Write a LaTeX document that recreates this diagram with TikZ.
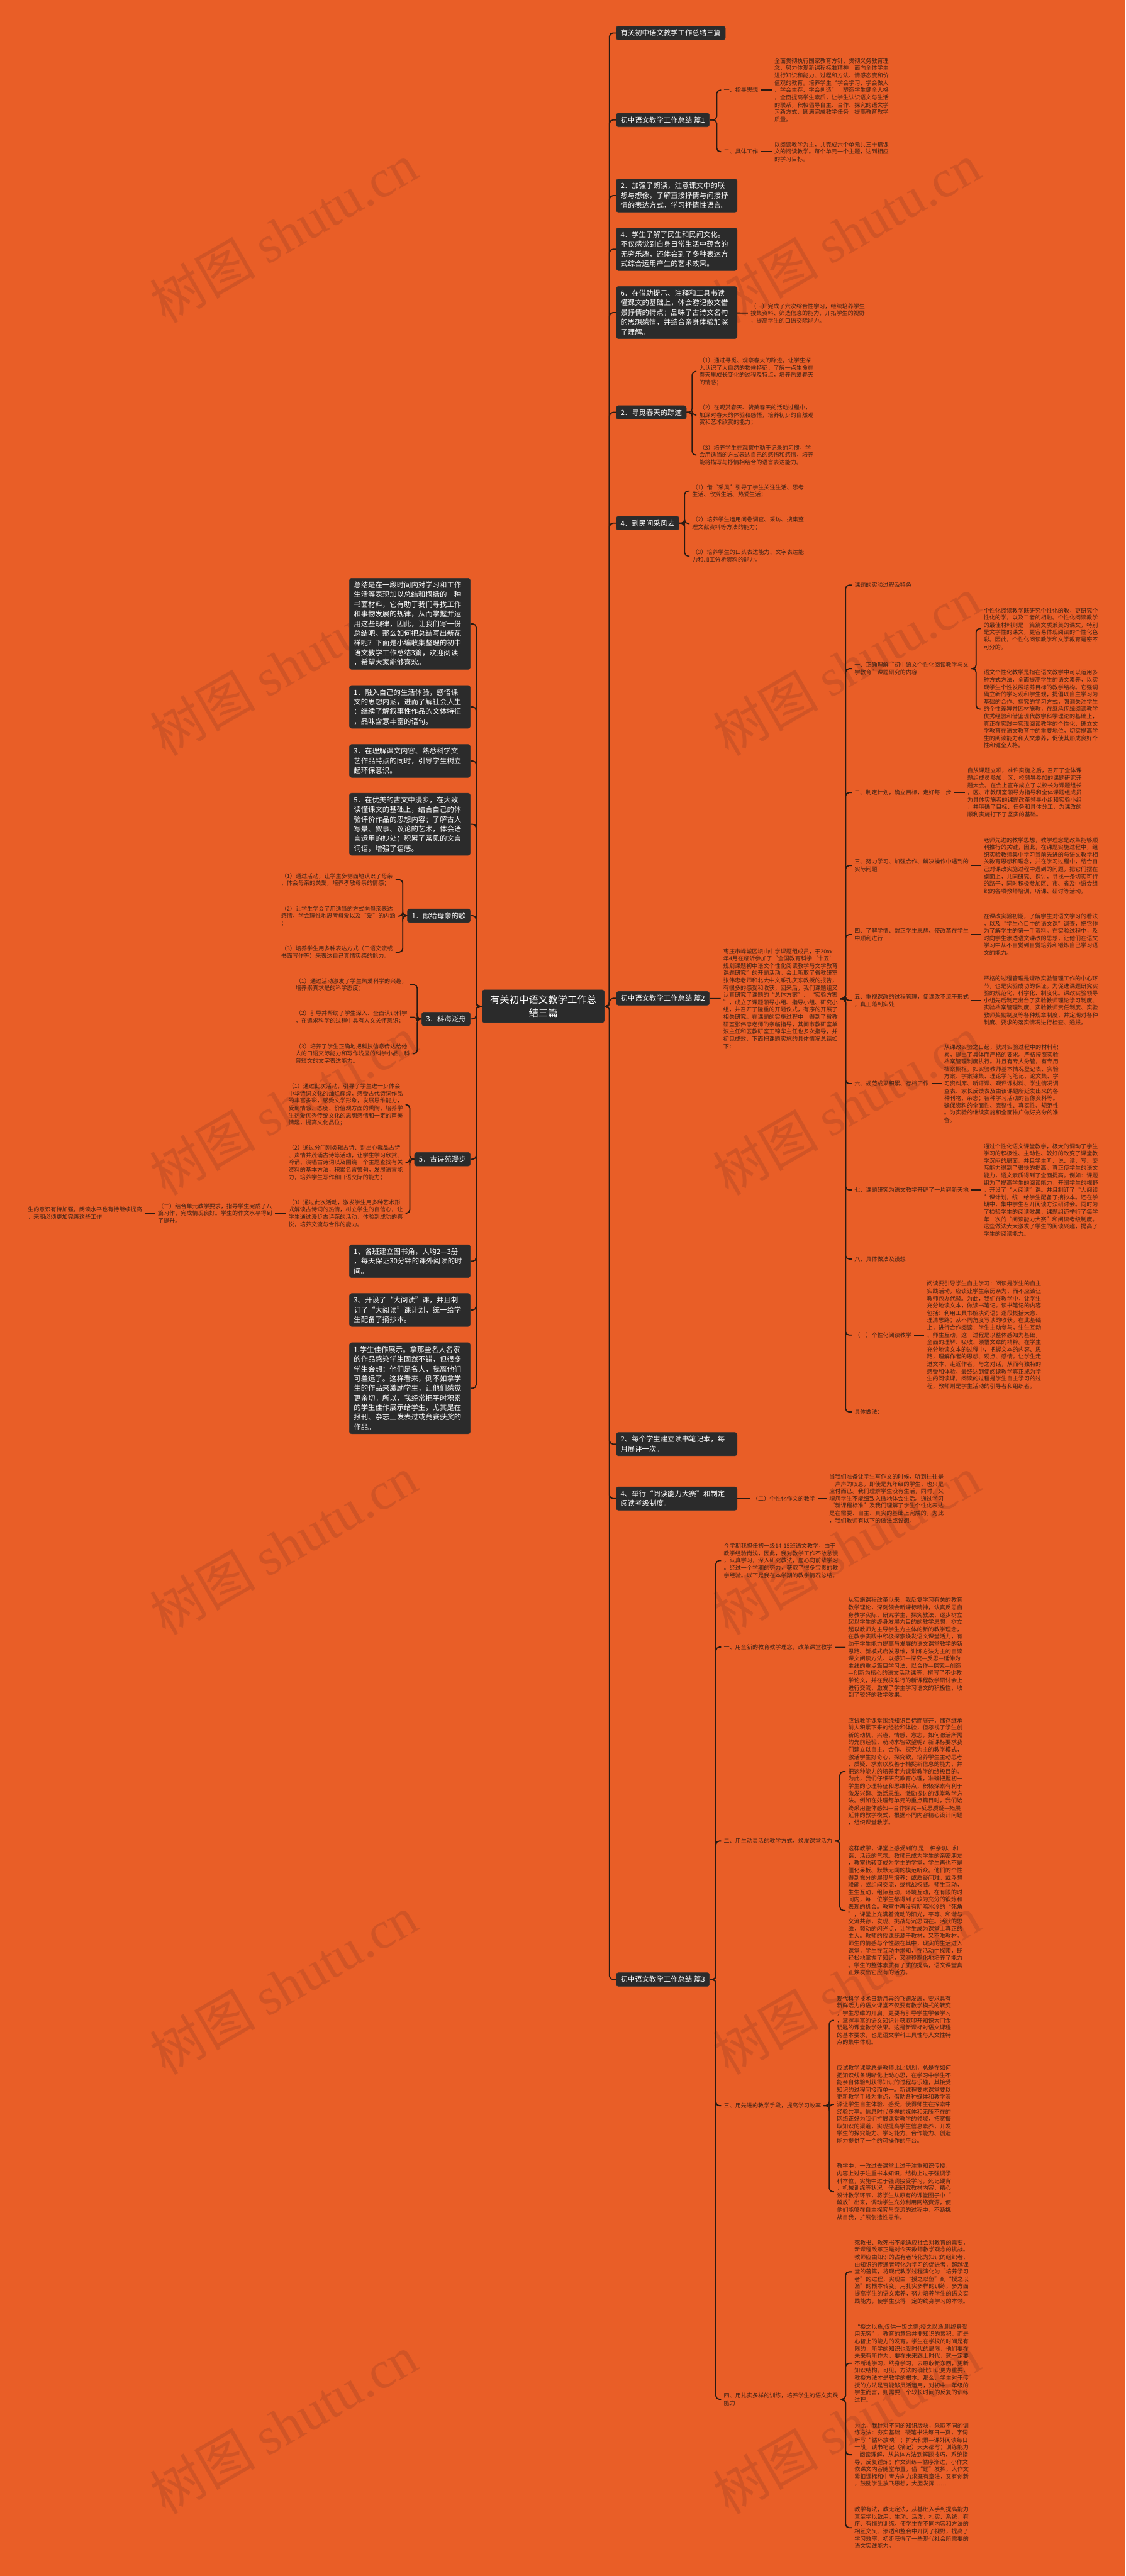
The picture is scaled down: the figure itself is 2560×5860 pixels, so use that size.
\documentclass[tikz,border=0pt]{standalone}
\usepackage{fontspec}
\setmainfont{Noto Sans CJK SC}
\newfontfamily\wmlatin{Liberation Serif}
\usetikzlibrary{positioning,calc}
\definecolor{bgorange}{RGB}{233,94,39}
\definecolor{boxgray}{RGB}{43,43,43}
\definecolor{boxrim}{RGB}{58,52,50}
\definecolor{inkbrown}{RGB}{62,34,22}
\definecolor{linebrown}{RGB}{42,26,18}
\definecolor{wmorange}{RGB}{208,84,38}

\begin{document}
\begin{tikzpicture}[
    x=1pt, y=-1pt,
    % node styles
    box/.style = {
      fill=boxgray,
      draw=boxrim,
      line width=0.8pt,
      rounded corners=5pt,
      text=white,
      align=left,
      inner xsep=10pt,
      inner ysep=8pt,
      font=\fontsize{16.3}{22}\selectfont
    },
    rbox/.style = {box, anchor=west},
    lbox/.style = {box, anchor=east},
    wbox/.style = {text width=255pt},
    mainbox/.style = {
      box,
      align=center,
      inner xsep=18pt,
      inner ysep=12pt,
      font=\fontsize{22}{30}\selectfont
    },
    txt/.style = {
      anchor=west,
      align=left,
      text=inkbrown,
      inner xsep=6pt,
      inner ysep=2pt,
      font=\fontsize{13}{16.6}\selectfont
    },
    wmark/.style = {rotate=30, text=wmorange, font=\fontsize{120}{120}\selectfont},
    % connector style
    conn/.style = {draw=linebrown, line width=2.6pt, rounded corners=8pt}
  ]

  % --- Background and watermarks
  \fill[bgorange] (0,0) rectangle (2560,5860);
  \useasboundingbox (0,0) rectangle (2560,5860);
  \foreach \wy in {530,1515,2515,3515,4515,5515} {
    \node[wmark] (wl\wy) at (645,\wy) {树图 {\wmlatin shutu.cn}};
    \node[wmark] (wr\wy) at (1925,\wy) {树图 {\wmlatin shutu.cn}};
  }

  % --- Spines
  \coordinate (spR) at (1386,0);
  \coordinate (spL) at (1083,0);
  \coordinate (bP1) at (1630,0);
  \coordinate (bS2) at (1574,0);
  \coordinate (bS4) at (1557,0);
  \coordinate (bP2) at (1923,0);
  \coordinate (bK1) at (2220,0);
  \coordinate (bP3) at (1628,0);
  \coordinate (bQ2) at (1910,0);
  \coordinate (bQ3) at (1886,0);
  \coordinate (bQ4) at (1923,0);
  \coordinate (bM1) at (916,0);
  \coordinate (bM3) at (949,0);
  \coordinate (bM5) at (932,0);

  % --- Root
  \node[mainbox] (main) at (1235.5,2289) {有关初中语文教学工作总\\结三篇};

  % --- Right branches
  \node[rbox] (r0) at (1401,75) {有关初中语文教学工作总结三篇};
  \node[rbox] (p1) at (1401,273) {初中语文教学工作总结 篇1};
  \node[rbox, wbox] (r3) at (1401,445) {2．加强了朗读，注意课文中的联\\想与想像，了解直接抒情与间接抒\\情的表达方式，学习抒情性语言。};
  \node[rbox, wbox] (r4) at (1401,567) {4．学生了解了民生和民间文化。\\不仅感觉到自身日常生活中蕴含的\\无穷乐趣，还体会到了多种表达方\\式综合运用产生的艺术效果。};
  \node[rbox, wbox] (r5) at (1401,711) {6．在借助提示、注释和工具书读\\懂课文的基础上，体会游记散文借\\景抒情的特点；品味了古诗文名句\\的思想感情，并结合亲身体验加深\\了理解。};
  \node[rbox] (s2) at (1401,938) {2．寻觅春天的踪迹};
  \node[rbox] (s4) at (1401,1190) {4．到民间采风去};
  \node[rbox] (p2) at (1401,2271) {初中语文教学工作总结 篇2};
  \node[rbox, wbox] (r9) at (1401,3285) {2、每个学生建立读书笔记本，每\\月展评一次。};
  \node[rbox, wbox] (r10) at (1401,3409) {4、举行“阅读能力大赛”和制定\\阅读考级制度。};
  \node[rbox] (p3) at (1401,4503) {初中语文教学工作总结 篇3};

  \foreach \c in {r0,p1,r3,r4,r5,s2,s4,p2,r9,r10,p3}
    \draw[conn] (main.east) -- (spR |- main.east) |- (\c.west);

  % 篇1
  \node[txt] (p1a) at (1640,205) {一、指导思想};
  \node[txt] (p1at) at (1755,205) {全面贯彻执行国家教育方针，贯彻义务教育理\\念，努力体现新课程标准精神，面向全体学生\\进行知识和能力、过程和方法、情感态度和价\\值观的教育。培养学生“学会学习、学会做人\\、学会生存、学会创造”，塑造学生健全人格\\，全面提高学生素质，让学生认识语文与生活\\的联系，积极倡导自主、合作、探究的语文学\\习新方式，圆满完成教学任务，提高教育教学\\质量。};
  \node[txt] (p1b) at (1640,345) {二、具体工作};
  \node[txt] (p1bt) at (1755,345) {以阅读教学为主，共完成六个单元共三十篇课\\文的阅读教学。每个单元一个主题，达到相应\\的学习目标。};
  \foreach \c in {p1a,p1b}
    \draw[conn] (p1.east) -- (bP1 |- p1.east) |- (\c.west);
  \draw[conn] (p1a) -- (p1at);
  \draw[conn] (p1b) -- (p1bt);

  \node[txt] (r5t) at (1701,713) {（一）完成了六次综合性学习，继续培养学生\\搜集资料、筛选信息的能力，开拓学生的视野\\，提高学生的口语交际能力。};
  \draw[conn] (r5) -- (r5t);

  % 寻觅春天的踪迹
  \node[txt] (s2a) at (1584,845) {（1）通过寻觅、观察春天的踪迹，让学生深\\入认识了大自然的物候特征，了解一点生命在\\春天里成长变化的过程及特点，培养热爱春天\\的情感；};
  \node[txt] (s2b) at (1584,944) {（2）在观赏春天、赞美春天的活动过程中，\\加深对春天的体验和感悟，培养初步的自然观\\赏和艺术欣赏的能力；};
  \node[txt] (s2c) at (1584,1035) {（3）培养学生在观察中勤于记录的习惯，学\\会用适当的方式表达自己的感悟和感情，培养\\能将描写与抒情相结合的语言表达能力。};
  \foreach \c in {s2a,s2b,s2c}
    \draw[conn] (s2.east) -- (bS2 |- s2.east) |- (\c.west);

  % 到民间采风去
  \node[txt] (s4a) at (1568,1117) {（1）借“采风”引导了学生关注生活、思考\\生活、欣赏生活、热爱生活；};
  \node[txt] (s4b) at (1568,1191) {（2）培养学生运用问卷调查、采访、搜集整\\理文献资料等方法的能力；};
  \node[txt] (s4c) at (1568,1265) {（3）培养学生的口头表达能力、文字表达能\\力和加工分析资料的能力。};
  \foreach \c in {s4a,s4b,s4c}
    \draw[conn] (s4.east) -- (bS4 |- s4.east) |- (\c.west);

  % 篇2
  \node[txt] (p2t) at (1639,2272) {枣庄市峄城区坛山中学课题组成员，于20xx\\年4月在临沂参加了“全国教育科学‘十五’\\规划课题初中语文个性化阅读教学与文学教育\\课题研究”的开题活动，会上听取了省教研室\\张伟忠老师和北大中文系孔庆东教授的报告，\\有很多的感受和收获，回来后，我们课题组又\\认真研究了课题的“总体方案”、“实验方案\\”，成立了课题领导小组、指导小组、研究小\\组，并召开了隆重的开题仪式，有序的开展了\\相关研究。在课题的实施过程中，得到了省教\\研室张伟忠老师的亲临指导，其间市教研室单\\波主任和区教研室王锦华主任也多次指导，并\\初见成效，下面把课题实施的具体情况总结如\\下：};
  \draw[conn] (p2) -- (p2t);

  \node[txt] (k0) at (1937,1331) {课题的实验过程及特色};
  \node[txt] (k1) at (1937,1521) {一、正确理解“初中语文个性化阅读教学与文\\学教育”课题研究的内容};
  \node[txt] (k2) at (1937,1803) {二、制定计划，确立目标，走好每一步};
  \node[txt] (k3) at (1937,1969) {三、努力学习、加强合作、解决操作中遇到的\\实际问题};
  \node[txt] (k4) at (1937,2126) {四、了解学情、端正学生思想、使改革在学生\\中顺利进行};
  \node[txt] (k5) at (1937,2276) {五、重视课改的过程管理，使课改不流于形式\\，真正落到实处};
  \node[txt] (k6) at (1937,2465) {六、规范成果积累、存档工作};
  \node[txt] (k7) at (1937,2707) {七、课题研究为语文教学开辟了一片崭新天地};
  \node[txt] (k8) at (1937,2864) {八、具体做法及设想};
  \node[txt] (k9) at (1937,3037) {（一）个性化阅读教学};
  \node[txt] (k10) at (1937,3212) {具体做法：};
  \foreach \c in {k0,k1,k2,k3,k4,k5,k6,k7,k8,k9,k10}
    \draw[conn] (p2t.east) -- (bP2 |- p2t.east) |- (\c.west);

  \node[txt] (k1a) at (2231,1430) {个性化阅读教学既研究个性化的教，更研究个\\性化的学，以及二者的相融。个性化阅读教学\\的最佳材料则是一篇篇文质兼美的课文，特别\\是文学性的课文，更容易体现阅读的个性化色\\彩。因此，个性化阅读教学和文学教育是密不\\可分的。};
  \node[txt] (k1b) at (2231,1613) {语文个性化教学是指在语文教学中可以运用多\\种方式方法，全面提高学生的语文素养，以实\\现学生个性发展培养目标的教学结构。它强调\\确立新的学习观和学生观，提倡以自主学习为\\基础的合作、探究的学习方式，强调关注学生\\的个性差异并因材施教，在继承传统阅读教学\\优秀经验和借鉴现代教学科学理论的基础上，\\真正在实践中实现阅读教学的个性化，确立文\\学教育在语文教育中的重要地位，切实提高学\\生的阅读能力和人文素养，促使其形成良好个\\性和健全人格。};
  \foreach \c in {k1a,k1b}
    \draw[conn] (k1.east) -- (bK1 |- k1.east) |- (\c.west);

  \node[txt] (k2t) at (2194,1803) {自从课题立项，准许实施之后，召开了全体课\\题组成员参加，区、校领导参加的课题研究开\\题大会。在会上宣布成立了以校长为课题组长\\，区、市教研室领导为指导和全体课题组成员\\为具体实施者的课题改革领导小组和实验小组\\，并明确了目标、任务和具体分工，为课改的\\顺利实施打下了坚实的基础。};
  \node[txt] (k3t) at (2231,1969) {老师先进的教学思想，教学理念是改革能够顺\\利推行的关键，因此，在课题实施过程中，组\\织实验教师集中学习当前先进的与语文教学相\\关教育思想和理念，并在学习过程中，结合自\\己对课改实施过程中遇到的问题，把它们摆在\\桌面上，共同研究、探讨，寻找一条切实可行\\的路子，同时积极参加区、市、省及中语会组\\织的各项教师培训，听课、研讨等活动。};
  \node[txt] (k4t) at (2231,2126) {在课改实验初期，了解学生对语文学习的看法\\，以及“学生心目中的语文课”调查，把它作\\为了解学生的第一手资料。在实验过程中，及\\时向学生渗透语文课改的思想，让他们在语文\\学习中从不自觉到自觉培养和锻炼自己学习语\\文的能力。};
  \node[txt] (k5t) at (2231,2276) {严格的过程管理是课改实验管理工作的中心环\\节，也是实验成功的保证。为促进课题研究实\\验的规范化、科学化、制度化。课改实验领导\\小组先后制定出台了实验教师理论学习制度、\\实验档案管理制度、实验教师责任制度、实验\\教师奖励制度等各种规章制度，并定期对各种\\制度、要求的落实情况进行检查、通报。};
  \node[txt] (k6t) at (2141,2465) {从课改实验之日起，就对实验过程中的材料积\\累，提出了具体而严格的要求。严格按照实验\\档案管理制度执行。并且有专人分管，有专用\\档案橱柜。如实验教师基本情况登记表、实验\\方案、学案锦集、理论学习笔记、论文集、学\\习资料库、听评课、观评课材料、学生情况调\\查表、家长反馈表及由该课题所延发出来的各\\种刊物、杂志；各种学习活动的音像资料等。\\确保资料的全面性、完整性、真实性、规范性\\。为实验的继续实施和全面推广做好充分的准\\备。};
  \node[txt] (k7t) at (2231,2707) {通过个性化语文课堂教学，极大的调动了学生\\学习的积极性、主动性、较好的改变了课堂教\\学沉闷的局面。并且学生听、说、读、写、交\\际能力得到了很快的提高。真正使学生的语文\\能力，语文素质得到了全面提高。例如：课题\\组为了提高学生的阅读能力，开阔学生的视野\\，开设了“大阅读”课。并且制订了“大阅读\\”课计划，统一给学生配备了摘抄本。还在学\\期中，集中学生召开阅读方法研讨会。同时为\\了检验学生的阅读效果，课题组还举行了每学\\年一次的“阅读能力大赛”和阅读考级制度。\\这些做法大大激发了学生的阅读兴趣，提高了\\学生的阅读能力。};
  \node[txt] (k9t) at (2102,3037) {阅读要引导学生自主学习：阅读是学生的自主\\实践活动，应该让学生亲历亲为，而不应该让\\教师包办代替。为此，我们在教学中，让学生\\充分地读文本，做读书笔记。读书笔记的内容\\包括：利用工具书解决词语；逐段概括大意、\\理清思路；从不同角度写读的收获。在此基础\\上，进行合作阅读：学生主动参与，生生互动\\、师生互动。这一过程是以整体感知为基础，\\全面的理解、吸收、领悟文章的精粹。在学生\\充分地读文本的过程中，把握文本的内容、思\\路，理解作者的思想、观点、感情。让学生走\\进文本、走近作者，与之对话，从而有独特的\\感受和体验。最终达到使阅读教学真正成为学\\生的阅读课，阅读的过程是学生自主学习的过\\程，教师则是学生活动的引导者和组织者。};
  \draw[conn] (k2) -- (k2t);
  \draw[conn] (k3) -- (k3t);
  \draw[conn] (k4) -- (k4t);
  \draw[conn] (k5) -- (k5t);
  \draw[conn] (k6) -- (k6t);
  \draw[conn] (k7) -- (k7t);
  \draw[conn] (k9) -- (k9t);

  % 阅读能力大赛
  \node[txt] (r10a) at (1705,3409) {（二）个性化作文的教学};
  \node[txt] (r10t) at (1880,3409) {当我们准备让学生写作文的时候，听到往往是\\一声声的叹息，即使是九年级的学生，也只是\\应付而已。我们理解学生没有生活，同时，又\\埋怨学生不能细致入微地体会生活。通过学习\\“新课程标准”及我们理解了学生个性化表达\\是在需要、自主、真实的基础上完成的。为此\\，我们教师有以下的做法或设想。};
  \draw[conn] (r10) -- (r10a);
  \draw[conn] (r10a) -- (r10t);

  % 篇3
  \node[txt] (q0) at (1640,3550) {今学期我担任初一级14-15班语文教学，由于\\教学经验尚浅，因此，我对教学工作不敢怠慢\\，认真学习，深入研究教法，虚心向前辈学习\\。经过一个学期的努力，获取了很多宝贵的教\\学经验。以下是我在本学期的教学情况总结。};
  \node[txt] (q1) at (1640,3747) {一、用全新的教育教学理念，改革课堂教学};
  \node[txt] (q2) at (1640,4188) {二、用生动灵活的教学方式，焕发课堂活力};
  \node[txt] (q3) at (1640,4790) {三、用先进的教学手段，提高学习效率};
  \node[txt] (q4) at (1640,5458) {四、用扎实多样的训练，培养学生的语文实践\\能力};
  \foreach \c in {q0,q1,q2,q3,q4}
    \draw[conn] (p3.east) -- (bP3 |- p3.east) |- (\c.west);

  \node[txt] (q1t) at (1923,3748) {从实施课程改革以来，我反复学习有关的教育\\教学理论，深刻领会新课标精神，认真反思自\\身教学实际，研究学生，探究教法，逐步树立\\起以学生的终身发展为目的的教学思想，树立\\起以教师为主导学生为主体的新的教学理念，\\在教学实践中积极探索焕发语文课堂活力，有\\助于学生能力提高与发展的语文课堂教学的新\\思路、新模式启发思维，训练方法为主的自读\\课文阅读方法、以感知—探究—反思—延伸为\\主线的重点篇目学习法、以合作—探究—创造\\—创新为核心的语文活动课等，撰写了不少教\\学论文，并在我校举行的新课程教学研讨会上\\进行交流，激发了学生学习语文的积极性，收\\到了较好的教学效果。};
  \draw[conn] (q1) -- (q1t);

  \node[txt] (q2a) at (1923,4030) {应试教学课堂围绕知识目标而展开，储存继承\\前人积累下来的经验和体验，但忽视了学生创\\新的动机、兴趣、情感、意志，如何激活所需\\的先前经验，萌动求智欲望呢？新课标要求我\\们建立以自主、合作、探究为主的教学模式，\\激活学生好奇心，探究欲，培养学生主动思考\\、质疑、求索以及善于捕捉新信息的能力，并\\把这种能力的培养定为课堂教学的终极目的。\\为此，我们仔细研究教育心理，准确把握初一\\学生的心理特征和思维特点，积极探索有利于\\激发兴趣、激活思维、激励探讨的课堂教学方\\法。例如在处理每单元的重点篇目时，我们始\\终采用整体感知—合作探究—反思质疑—拓展\\延伸的教学模式，根据不同内容精心设计问题\\，组织课堂教学。};
  \node[txt] (q2b) at (1923,4346) {这样教学，课堂上感受到的.是一种亲切、和\\谐、活跃的气氛。教师已成为学生的亲密朋友\\，教室也转变成为学生的学堂，学生再也不是\\僵化呆板、默默无闻的模范听众。他们的个性\\得到充分的展现与培养：或质疑问难，或浮想\\联翩，或组间交流，或挑战权威。师生互动，\\生生互动，组际互动，环境互动，在有限的时\\间内，每一位学生都得到了较为充分的锻炼和\\表现的机会。教室中再没有阴暗冰冷的“死角\\”，课堂上充满着流动的阳光，平等、和谐与\\交流共存，发现、挑战与沉思同在。活跃的思\\维，频动的闪光点，让学生成为课堂上真正的\\主人。教师的授课既源于教材，又不唯教材。\\师生的情感与个性融在其中，现实的生活进入\\课堂，学生在互动中求知，在活动中探索，既\\轻松地掌握了知识，又潜移默化地培养了能力\\。学生的整体素质有了质的提高，语文课堂真\\正焕发出它应有的活力。};
  \foreach \c in {q2a,q2b}
    \draw[conn] (q2.east) -- (bQ2 |- q2.east) |- (\c.west);

  \node[txt] (q3a) at (1897,4596) {现代科学技术日新月异的飞速发展，要求具有\\新鲜活力的语文课堂不仅要有教学模式的转变\\，学生思维的开启，更要有引导学生学会学习\\，掌握丰富的语文知识并获取叩开知识大门金\\钥匙的课堂教学效果。这是新课标对语文课程\\的基本要求，也是语文学科工具性与人文性特\\点的集中体现。};
  \node[txt] (q3b) at (1897,4787) {应试教学课堂总是教师比比划划，总是在如何\\把知识线条明晰化上动心思，在学习中学生不\\能亲自体验到获得知识的过程与乐趣，其接受\\知识的过程间接而单一。新课程要求课堂要以\\更新教学手段为重点，借助各种媒体和教学资\\源让学生自主体验、感受，使得师生在探索中\\经验共享。信息时代多样的媒体和无所不在的\\网络正好为我们扩展课堂教学的领域，拓宽摄\\取知识的渠道，实现提高学生信息素养，开发\\学生的探究能力、学习能力、合作能力、创造\\能力提供了一个的可操作的平台。};
  \node[txt] (q3c) at (1897,4986) {教学中，一改过去课堂上过于注重知识传授，\\内容上过于注重书本知识，结构上过于强调学\\科本位，实施中过于强调接受学习，死记硬背\\，机械训练等状况，仔细研究教材内容，精心\\设计教学环节，将学生从原有的课堂圈子中“\\解放”出来，调动学生充分利用网络资源，使\\他们能够在自主探究与交流的过程中，不断挑\\战自我，扩展创造性思维。};
  \foreach \c in {q3a,q3b,q3c}
    \draw[conn] (q3.east) -- (bQ3 |- q3.east) |- (\c.west);

  \node[txt] (q4a) at (1937,5168) {死教书、教死书不能适应社会对教育的需要，\\新课程改革正是对今天教师教学观念的挑战。\\教师应由知识的占有者转化为知识的组织者，\\由知识的传递者转化为学习的促进者，超越课\\堂的藩篱，将现代教学过程演化为“培养学习\\者”的过程，实现由“授之以鱼”到“授之以\\渔”的根本转变。用扎实多样的训练，多方面\\提高学生的语文素养，努力培养学生的语文实\\践能力，使学生获得一定的终身学习的本领。};
  \node[txt] (q4b) at (1937,5376) {“授之以鱼,仅供一饭之需;授之以渔,则终身受\\用无穷”。教育的意旨并非知识的累积，而是\\心智上的能力的发育。学生在学校的时间是有\\限的，所学的知识也受时代的局限，他们要在\\未来有所作为，要在未来跟上时代，就一定要\\不断地学习，终身学习，去吸收新东西，更新\\知识结构。可见，方法的确比知识更为重要，\\教授方法才是教学的根本。那么，学生对于传\\授的方法是否能够灵活运用，对初中一年级的\\学生而言，则需要一个较长时间的反复的训练\\过程。};
  \node[txt] (q4c) at (1937,5584) {为此，我针对不同的知识版块，采取不同的训\\练方法：夯实基础—硬笔书法每日一页，字词\\听写“循环放映”；扩大积累—课外阅读每日\\一段，读书笔记（摘记）天天都写；训练能力\\—阅读理解，从总体方法到解题技巧，系统指\\导，反复锤炼；作文训练—循序渐进，小作文\\依课文内容随堂布置，借“题”发挥，大作文\\紧扣课标和中考方向力求既有章法，又有创新\\，鼓励学生放飞思想，大胆发挥……};
  \node[txt] (q4d) at (1937,5750) {教学有法，教无定法，从基础入手到提高能力\\直至学以致用，生动、活泼，扎实、系统，有\\序、有恒的训练，使学生在不同内容和方法的\\相互交叉、渗透和整合中开阔了视野，提高了\\学习效率，初步获得了一些现代社会所需要的\\语文实践能力。};
  \foreach \c in {q4a,q4b,q4c,q4d}
    \draw[conn] (q4.east) -- (bQ4 |- q4.east) |- (\c.west);

  % --- Left branches
  \node[lbox, wbox] (l0) at (1070,1419) {总结是在一段时间内对学习和工作\\生活等表现加以总结和概括的一种\\书面材料，它有助于我们寻找工作\\和事物发展的规律，从而掌握并运\\用这些规律，因此，让我们写一份\\总结吧。那么如何把总结写出新花\\样呢？下面是小编收集整理的初中\\语文教学工作总结3篇，欢迎阅读\\，希望大家能够喜欢。};
  \node[lbox, wbox] (l1) at (1070,1608) {1．融入自己的生活体验，感悟课\\文的思想内涵，进而了解社会人生\\；继续了解叙事性作品的文体特征\\，品味含意丰富的语句。};
  \node[lbox, wbox] (l3) at (1070,1731) {3．在理解课文内容、熟悉科学文\\艺作品特点的同时，引导学生树立\\起环保意识。};
  \node[lbox, wbox] (l5) at (1070,1875) {5．在优美的古文中漫步，在大致\\读懂课文的基础上，结合自己的体\\验评价作品的思想内容；了解古人\\写景、叙事、议论的艺术，体会语\\言运用的妙处；积累了常见的文言\\词语，增强了语感。};
  \node[lbox] (m1) at (1070,2083) {1．献给母亲的歌};
  \node[lbox] (m3) at (1070,2318) {3．科海泛舟};
  \node[lbox] (m5) at (1070,2637) {5．古诗苑漫步};
  \node[lbox, wbox] (l7) at (1070,2869) {1、各班建立图书角，人均2—3册\\，每天保证30分钟的课外阅读的时\\间。};
  \node[lbox, wbox] (l8) at (1070,2980) {3、开设了“大阅读”课，并且制\\订了“大阅读”课计划，统一给学\\生配备了摘抄本。};
  \node[lbox, wbox] (l9) at (1070,3158) {1.学生佳作展示。拿那些名人名家\\的作品感染学生固然不错，但很多\\学生会想：他们是名人，我离他们\\可差远了。这样看来，倒不如拿学\\生的作品来激励学生，让他们感觉\\更亲切。所以，我经常把平时积累\\的学生佳作展示给学生，尤其是在\\报刊、杂志上发表过或竞赛获奖的\\作品。};

  \foreach \c in {l0,l1,l3,l5,m1,m3,m5,l7,l8,l9}
    \draw[conn] (main.west) -- (spL |- main.west) |- (\c.east);

  % 献给母亲的歌
  \node[txt] (m1a) at (633,2001) {（1）通过活动，让学生多侧面地认识了母亲\\，体会母亲的关爱，培养孝敬母亲的情感；};
  \node[txt] (m1b) at (633,2084) {（2）让学生学会了用适当的方式向母亲表达\\感情，学会理性地思考母爱以及“爱”的内涵\\；};
  \node[txt] (m1c) at (633,2166) {（3）培养学生用多种表达方式（口语交流或\\书面写作等）来表达自己真情实感的能力。};
  \foreach \c in {m1a,m1b,m1c}
    \draw[conn] (m1.west) -- (bM1 |- m1.west) |- (\c.east);

  % 科海泛舟
  \node[txt] (m3a) at (666,2240) {（1）通过活动激发了学生热爱科学的兴趣，\\培养崇真求是的科学态度；};
  \node[txt] (m3b) at (666,2314) {（2）引导并帮助了学生深入、全面认识科学\\，在追求科学的过程中具有人文关怀意识；};
  \node[txt] (m3c) at (666,2397) {（3）培养了学生正确地把科技信息传达给他\\人的口语交际能力和写作浅显的科学小品、科\\普短文的文字表达能力。};
  \foreach \c in {m3a,m3b,m3c}
    \draw[conn] (m3.west) -- (bM3 |- m3.west) |- (\c.east);

  % 古诗苑漫步
  \node[txt] (m5a) at (650,2513) {（1）通过此次活动，引导了学生进一步体会\\中华诗词文化的灿烂辉煌，感受古代诗词作品\\的丰富多彩，感受文学形象，发展思维能力，\\受到情感、态度、价值观方面的熏陶，培养学\\生热爱优秀传统文化的思想感情和一定的审美\\情趣，提高文化品位；};
  \node[txt] (m5b) at (650,2645) {（2）通过分门别类辑古诗、别出心裁品古诗\\、声情并茂诵古诗等活动，让学生学习欣赏、\\吟诵、演唱古诗词以及围绕一个主题查找有关\\资料的基本方法，积累名言警句，发展语言能\\力，培养学生写作和口语交际的能力；};
  \node[txt] (m5c) at (650,2760) {（3）通过此次活动，激发学生用多种艺术形\\式解读古诗词的热情，树立学生的自信心，让\\学生通过漫步古诗苑的活动，体验到成功的喜\\悦，培养交流与合作的能力。};
  \foreach \c in {m5a,m5b,m5c}
    \draw[conn] (m5.west) -- (bM5 |- m5.west) |- (\c.east);

  \node[txt] (m5d) at (353,2760) {（二）结合单元教学要求，指导学生完成了八\\篇习作，完成情况良好。学生的作文水平得到\\了提升。};
  \node[txt] (m5e) at (57,2760) {生的意识有待加强，朗读水平也有待继续提高\\，来期必须更加完善这些工作};
  \draw[conn] (m5c) -- (m5d);
  \draw[conn] (m5d) -- (m5e);
\end{tikzpicture}
\end{document}
